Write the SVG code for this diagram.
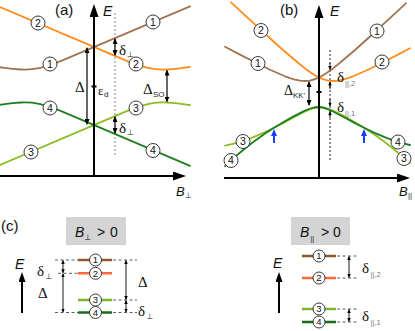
<svg xmlns="http://www.w3.org/2000/svg" width="415" height="331" viewBox="0 0 415 331">
<defs>
<style>
.ax{stroke:#000;stroke-width:2;fill:none}
.cv{fill:none;stroke-width:1.8;stroke-linejoin:round;stroke-linecap:round}
.br{stroke:#a27350}.or{stroke:#ff8c1e}.dg{stroke:#1f7f1f}.lg{stroke:#8cbc26}
.lv{stroke-width:2.6;fill:none}
.c{fill:#fff;stroke:#222;stroke-width:0.9}
.n{font-family:"Liberation Sans","DejaVu Sans",sans-serif;font-size:10.5px;text-anchor:middle;fill:#111}
.nc{font-family:"Liberation Sans","DejaVu Sans",sans-serif;font-size:9.5px;text-anchor:middle;fill:#111}
.t{font-family:"Liberation Sans","DejaVu Sans",sans-serif;fill:#111}
.i{font-style:italic}
.g{font-family:"Liberation Serif","DejaVu Serif",serif;fill:#111}
.sub{font-family:"Liberation Sans","DejaVu Sans",sans-serif;font-size:8px;fill:#222}
.subg{font-family:"Liberation Sans","DejaVu Sans",sans-serif;font-size:7.5px;fill:#777}
.ar{stroke:#000;stroke-width:1.2;fill:none}
.arc{stroke:#000;stroke-width:0.9;fill:none}
.dt{stroke-width:1;fill:none;stroke-dasharray:2,2}
.ds{stroke:#333;stroke-width:0.8;stroke-dasharray:3,2.5;fill:none}
.box{fill:#d4d4d4}
</style>
<marker id="axh" viewBox="0 0 13 9" refX="4" refY="4.5" markerWidth="13" markerHeight="9" markerUnits="userSpaceOnUse" orient="auto"><path d="M0,0L13,4.5L0,9z" fill="#000"/></marker>
<marker id="eh" viewBox="0 0 10 7" refX="3" refY="3.5" markerWidth="10" markerHeight="7" markerUnits="userSpaceOnUse" orient="auto"><path d="M0,0L10,3.5L0,7z" fill="#000"/></marker>
<marker id="sh" viewBox="0 0 6 5" refX="5" refY="2.5" markerWidth="6" markerHeight="5" markerUnits="userSpaceOnUse" orient="auto-start-reverse"><path d="M0,0L6,2.5L0,5z" fill="#000"/></marker>
<marker id="th" viewBox="0 0 4 3.5" refX="3.5" refY="1.75" markerWidth="4" markerHeight="3.5" markerUnits="userSpaceOnUse" orient="auto-start-reverse"><path d="M0,0L4,1.75L0,3.5z" fill="#000"/></marker>
<marker id="bh" viewBox="0 0 7 6" refX="2" refY="3" markerWidth="7" markerHeight="6" markerUnits="userSpaceOnUse" orient="auto"><path d="M0,0L7,3L0,6z" fill="#1a3cff"/></marker>
</defs>

<g id="panel-a">
<line class="dt" x1="115" y1="13" x2="115" y2="155" stroke="#888"/>
<path class="cv or" d="M0,7 L125,60.2 C145,68.7 155,70 167,69.5 S185,67.5 190,67"/>
<path class="cv br" d="M-2,67 C3,67.5 9,69 21,69.5 C33,70 43,68.7 63,60.2 L190,6.3"/>
<path class="cv lg" d="M0,165 L125,111.8 C145,103.3 155,102 167,102.5 S185,104.5 190,105"/>
<path class="cv dg" d="M-2,105 C3,104.5 9,103 21,102.5 C33,102 43,103.3 63,111.8 L190,165.8"/>
<line class="ax" x1="0" y1="176" x2="177" y2="176" marker-end="url(#axh)"/>
<line class="ax" x1="94" y1="176" x2="94" y2="13" marker-end="url(#axh)"/>
<rect x="91.5" y="85.5" width="5" height="2" fill="#000"/>
<text class="t" x="55" y="15" font-size="15">(a)</text>
<text class="t i" x="103" y="16" font-size="14">E</text>
<text class="t i" x="176" y="196" font-size="13">B</text><text class="sub" x="185" y="198">⊥</text>
<line class="ar" x1="87" y1="48" x2="87" y2="124" marker-start="url(#sh)" marker-end="url(#sh)"/>
<text class="g" x="75" y="92" font-size="15">Δ</text>
<text class="g" x="98" y="95" font-size="13">ε</text><text class="sub" x="104" y="97">d</text>
<line class="ar" x1="115" y1="39" x2="115" y2="55" marker-start="url(#sh)" marker-end="url(#sh)"/>
<text class="g" x="119" y="55" font-size="15">δ</text><text class="sub" x="127" y="57">⊥</text>
<line class="ar" x1="115" y1="117" x2="115" y2="133" marker-start="url(#sh)" marker-end="url(#sh)"/>
<text class="g" x="119" y="133" font-size="15">δ</text><text class="sub" x="127" y="135">⊥</text>
<line class="ar" x1="167" y1="70.5" x2="167" y2="101.5" marker-start="url(#sh)" marker-end="url(#sh)"/>
<text class="g" x="143" y="94" font-size="15">Δ</text><text class="sub" x="153" y="97" font-size="8.5">SO</text>
<g id="a-n2l"><circle class="c" cx="38" cy="23" r="7"/><text class="n" x="38" y="26.8">2</text></g>
<g id="a-n1l"><circle class="c" cx="50" cy="64" r="7"/><text class="n" x="50" y="67.8">1</text></g>
<g id="a-n1r"><circle class="c" cx="153" cy="22" r="7"/><text class="n" x="153" y="25.8">1</text></g>
<g id="a-n2r"><circle class="c" cx="136" cy="64" r="7"/><text class="n" x="136" y="67.8">2</text></g>
<g id="a-n4l"><circle class="c" cx="50" cy="108" r="7"/><text class="n" x="50" y="111.8">4</text></g>
<g id="a-n4r"><circle class="c" cx="153" cy="150.5" r="7"/><text class="n" x="153" y="154.3">4</text></g>
<g id="a-n3l"><circle class="c" cx="31" cy="152" r="7"/><text class="n" x="31" y="155.8">3</text></g>
<g id="a-n3r"><circle class="c" cx="136" cy="108" r="7"/><text class="n" x="136" y="111.8">3</text></g>
</g>

<g id="panel-b">
<line class="dt" x1="330" y1="50" x2="330" y2="160" stroke="#222"/>
<path class="cv or" d="M231,2.3 L238,8.8 L253,22.7 L268,36.5 L283,50 L298,62.8 L305,68.4 L311,72.7 L315,75.3 L319,77.5 L323,79.2 L328,80.6 L333,81 L338,80.6 L343,79.6 L348,78.1 L353,76.3 L368,69.7 L383,62.3 L398,54.6 L410,48.3"/>
<path class="cv br" d="M225,46.7 L240,54.6 L255,62.3 L270,69.7 L285,76.3 L290,78.1 L295,79.6 L300,80.6 L305,81 L310,80.6 L315,79.2 L319,77.5 L323,75.3 L327,72.7 L333,68.4 L340,62.8 L355,50 L370,36.5 L385,22.7 L400,8.8 L406,3.2"/>
<path class="cv lg" d="M225,145.6 L234,143.6 L244,140.6 L254,136.9 L264,132.6 L274,127.8 L284,122.6 L294,117.3 L304,112 L309,109.7 L314,107.8 L319,107 L324,107.5 L329,109 L334,111.1 L344,116.1 L354,121.7 L364,127.8 L374,134.3 L384,141.5 L394,149.2 L404,157.7 L410,163.2"/>
<path class="cv dg" d="M225,166.1 L234,157.7 L244,149.2 L254,141.5 L264,134.3 L274,127.8 L284,121.7 L294,116.1 L304,111.1 L309,109 L314,107.5 L319,107 L324,107.8 L329,109.7 L334,112 L344,117.3 L354,122.6 L364,127.8 L374,132.6 L384,136.9 L394,140.6 L404,143.6 L410,145"/>
<line class="ax" x1="224" y1="178" x2="401" y2="178" marker-end="url(#axh)"/>
<line class="ax" x1="319" y1="178" x2="319" y2="14" marker-end="url(#axh)"/>
<rect x="316.5" y="91" width="5" height="2" fill="#000"/>
<text class="t" x="280" y="15" font-size="15">(b)</text>
<text class="t i" x="330" y="16" font-size="14">E</text>
<text class="t i" x="399" y="196" font-size="13">B</text><text class="sub" x="408" y="198" font-size="7">||</text>
<line class="ar" x1="309" y1="82" x2="309" y2="105" marker-start="url(#sh)" marker-end="url(#sh)"/>
<text class="g" x="284" y="95" font-size="14">Δ</text><text class="sub" x="293" y="98" font-size="8">KK'</text>
<line class="arc" x1="330" y1="63" x2="330" y2="69.5" marker-end="url(#th)"/>
<line class="arc" x1="330" y1="89" x2="330" y2="82" marker-end="url(#th)"/>
<line class="arc" x1="330" y1="99" x2="330" y2="106" marker-end="url(#th)"/>
<line class="arc" x1="330" y1="118" x2="330" y2="111.5" marker-end="url(#th)"/>
<text class="g" x="337" y="82" font-size="15" fill="#333">δ</text><text class="subg" x="345" y="86">||,2</text>
<text class="g" x="337" y="112" font-size="15" fill="#333">δ</text><text class="subg" x="345" y="116">||,1</text>
<line x1="274" y1="143" x2="274" y2="134" stroke="#1a3cff" stroke-width="2" marker-end="url(#bh)"/>
<line x1="364" y1="143" x2="364" y2="134" stroke="#1a3cff" stroke-width="2" marker-end="url(#bh)"/>
<g id="b-n2l"><circle class="c" cx="261" cy="30.5" r="7"/><text class="n" x="261" y="34.3">2</text></g>
<g id="b-n1l"><circle class="c" cx="258" cy="63.5" r="7"/><text class="n" x="258" y="67.3">1</text></g>
<g id="b-n1r"><circle class="c" cx="377" cy="31" r="7"/><text class="n" x="377" y="34.8">1</text></g>
<g id="b-n2r"><circle class="c" cx="382" cy="62" r="7"/><text class="n" x="382" y="65.8">2</text></g>
<g id="b-n3l"><circle class="c" cx="243" cy="141.5" r="7"/><text class="n" x="243" y="145.3">3</text></g>
<g id="b-n4l"><circle class="c" cx="231" cy="160.5" r="7"/><text class="n" x="231" y="164.3">4</text></g>
<g id="b-n4r"><circle class="c" cx="398" cy="142" r="7"/><text class="n" x="398" y="145.8">4</text></g>
<g id="b-n3r"><circle class="c" cx="404" cy="158.5" r="7"/><text class="n" x="404" y="162.3">3</text></g>
</g>

<g id="panel-c">
<text class="t" x="1" y="231" font-size="15">(c)</text>
<rect class="box" x="66" y="217" width="60" height="28"/>
<text class="t" font-size="14" y="237"><tspan class="i" x="75">B</tspan><tspan font-size="8" x="84.5" y="240">⊥</tspan><tspan x="97" y="237">&gt;</tspan><tspan x="110">0</tspan></text>
<rect class="box" x="291" y="217" width="59" height="28"/>
<text class="t" font-size="14" y="237"><tspan class="i" x="300">B</tspan><tspan font-size="7" x="310.5" y="241">||</tspan><tspan x="321" y="237">&gt;</tspan><tspan x="333">0</tspan></text>

<line class="ax" x1="22" y1="313" x2="22" y2="279" marker-end="url(#eh)"/>
<text class="t i" x="15" y="269" font-size="14">E</text>
<line class="ax" x1="279" y1="313" x2="279" y2="279" marker-end="url(#eh)"/>
<text class="t i" x="273" y="268" font-size="14">E</text>

<g id="c-dashes">
<line class="ds" x1="55" y1="260" x2="78" y2="260"/>
<line class="ds" x1="58" y1="273.3" x2="78" y2="273.3"/>
<line class="ds" x1="55" y1="312.5" x2="78" y2="312.5"/>
<line class="ds" x1="113" y1="260" x2="137" y2="260"/>
<line class="ds" x1="113" y1="300" x2="137" y2="300"/>
<line class="ds" x1="113" y1="312.5" x2="137" y2="312.5"/>
<line class="ds" x1="337" y1="256" x2="358" y2="256"/>
<line class="ds" x1="337" y1="278" x2="358" y2="278"/>
<line class="ds" x1="337" y1="309" x2="358" y2="309"/>
<line class="ds" x1="337" y1="322" x2="358" y2="322"/>
</g>
<line class="arc" x1="63" y1="260.5" x2="63" y2="272.8" marker-start="url(#th)" marker-end="url(#th)"/>
<line class="arc" x1="63" y1="273.8" x2="63" y2="312" marker-start="url(#th)" marker-end="url(#th)"/>
<line class="arc" x1="126" y1="260.5" x2="126" y2="299.5" marker-start="url(#th)" marker-end="url(#th)"/>
<line class="arc" x1="126" y1="300.5" x2="126" y2="312" marker-start="url(#th)" marker-end="url(#th)"/>
<line class="arc" x1="349" y1="256.5" x2="349" y2="277.5" marker-start="url(#th)" marker-end="url(#th)"/>
<line class="arc" x1="349" y1="309.5" x2="349" y2="321.5" marker-start="url(#th)" marker-end="url(#th)"/>
<text class="g" x="37" y="276" font-size="15">δ</text><text class="sub" x="45.5" y="279">⊥</text>
<text class="g" x="38" y="298" font-size="15">Δ</text>
<text class="g" x="138" y="287" font-size="15">Δ</text>
<text class="g" x="138" y="316" font-size="15">δ</text><text class="sub" x="146.5" y="319">⊥</text>
<text class="g" x="362" y="273" font-size="15" fill="#333">δ</text><text class="subg" x="370.5" y="277">||,2</text>
<text class="g" x="362" y="321" font-size="15" fill="#333">δ</text><text class="subg" x="370.5" y="325">||,1</text>

<g id="c-l1"><line class="lv" x1="78" y1="260" x2="112" y2="260" stroke="#8e5a2c"/><circle class="c" cx="95.5" cy="260" r="6"/><text class="nc" x="95.5" y="263.4">1</text></g>
<g id="c-l2"><line class="lv" x1="78" y1="273.3" x2="112" y2="273.3" stroke="#ff6a3d"/><circle class="c" cx="95.5" cy="273.3" r="6"/><text class="nc" x="95.5" y="276.7">2</text></g>
<g id="c-l3"><line class="lv" x1="78" y1="300" x2="112" y2="300" stroke="#80b52a"/><circle class="c" cx="95.5" cy="300" r="6"/><text class="nc" x="95.5" y="303.4">3</text></g>
<g id="c-l4"><line class="lv" x1="78" y1="312.5" x2="112" y2="312.5" stroke="#1a6e1a"/><circle class="c" cx="95.5" cy="312.5" r="6"/><text class="nc" x="95.5" y="315.9">4</text></g>
<g id="c-r1"><line class="lv" x1="302" y1="256" x2="336" y2="256" stroke="#8e5a2c"/><circle class="c" cx="319" cy="256" r="6"/><text class="nc" x="319" y="259.4">1</text></g>
<g id="c-r2"><line class="lv" x1="302" y1="278" x2="336" y2="278" stroke="#ff6a3d"/><circle class="c" cx="319" cy="278" r="6"/><text class="nc" x="319" y="281.4">2</text></g>
<g id="c-r3"><line class="lv" x1="302" y1="309" x2="336" y2="309" stroke="#80b52a"/><circle class="c" cx="319" cy="309" r="6"/><text class="nc" x="319" y="312.4">3</text></g>
<g id="c-r4"><line class="lv" x1="302" y1="322" x2="336" y2="322" stroke="#1a6e1a"/><circle class="c" cx="319" cy="322" r="6"/><text class="nc" x="319" y="325.4">4</text></g>
</g>
</svg>
